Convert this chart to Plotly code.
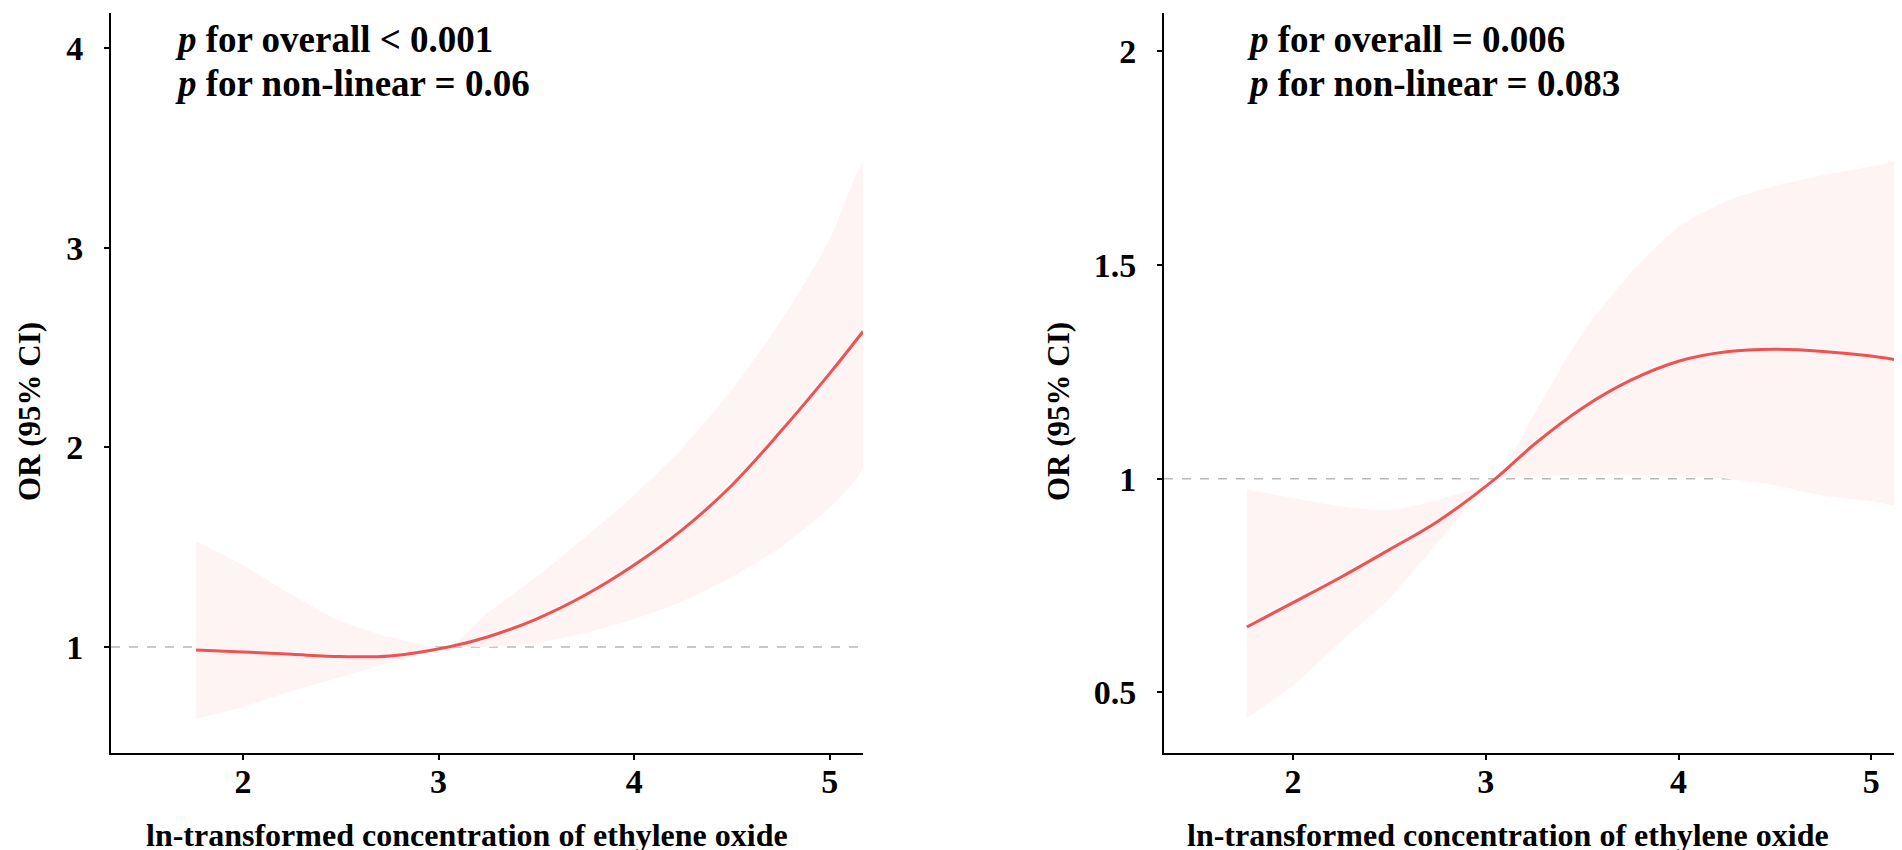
import plotly.graph_objects as go

# ln-transformed concentration grid (shared by both panels)
conc = [1.76, 2.0, 2.25, 2.5, 2.75, 3.05, 3.25, 3.5, 3.75, 4.0, 4.25, 4.5, 4.75, 5.0, 5.17]

# left panel: OR and 95% CI
or_left = [0.985, 0.975, 0.963, 0.952, 0.955, 1.0, 1.05, 1.14, 1.26, 1.41, 1.59, 1.81, 2.08, 2.37, 2.58]
up_left = [1.53, 1.41, 1.26, 1.13, 1.05, 1.0, 1.17, 1.35, 1.55, 1.76, 2.0, 2.29, 2.63, 3.04, 3.42]
lo_left = [0.64, 0.70, 0.78, 0.85, 0.92, 1.0, 1.0, 1.02, 1.07, 1.14, 1.23, 1.35, 1.50, 1.70, 1.90]

# right panel: OR and 95% CI
or_right = [0.653, 0.71, 0.77, 0.834, 0.90, 1.0, 1.08, 1.165, 1.23, 1.275, 1.297, 1.303, 1.298, 1.287, 1.275]
up_right = [0.975, 0.955, 0.935, 0.926, 0.95, 1.0, 1.15, 1.34, 1.48, 1.59, 1.65, 1.685, 1.71, 1.73, 1.74]
lo_right = [0.44, 0.516, 0.62, 0.72, 0.85, 1.0, 1.005, 1.01, 1.01, 1.005, 1.0, 0.985, 0.96, 0.948, 0.94]

xticks = [2, 3, 4, 5]
yticks_left = [1, 2, 3, 4]
yticks_right = [0.5, 1, 1.5, 2]

notes_left = ["<i>p</i> for overall < 0.001", "<i>p</i> for non-linear = 0.06"]
notes_right = ["<i>p</i> for overall = 0.006", "<i>p</i> for non-linear = 0.083"]
xlab = "ln-transformed concentration of ethylene oxide"
ylab = "OR (95% CI)"

line_col = "#EE5252"
band_col = "#FEF4F4"
font = "Liberation Serif"

fig = go.Figure()

for xa, ya, lo, up, est in [("x", "y", lo_left, up_left, or_left),
                            ("x2", "y2", lo_right, up_right, or_right)]:
    fig.add_trace(go.Scatter(x=conc + conc[::-1], y=up + lo[::-1], fill="toself",
                             fillcolor=band_col, line=dict(width=0, shape="spline", smoothing=0.6),
                             mode="lines", xaxis=xa, yaxis=ya, hoverinfo="skip"))
    fig.add_trace(go.Scatter(x=conc, y=est, mode="lines", line=dict(color=line_col, width=3, shape="spline"),
                             xaxis=xa, yaxis=ya))
    fig.add_shape(type="line", xref=xa + " domain", yref=ya, x0=0, x1=1, y0=1, y1=1,
                  line=dict(color="#B8B8B8", width=1.5, dash="dash"), layer="below")

axis_common = dict(showline=True, linecolor="black", linewidth=2, ticks="outside", ticklen=5,
                   tickwidth=1.5, tickcolor="black", showgrid=False, zeroline=False,
                   tickfont=dict(family=font, size=34, color="black", weight="bold"))

fig.update_layout(
    width=1902, height=850,
    margin=dict(l=0, r=0, t=0, b=0),
    paper_bgcolor="white", plot_bgcolor="white",
    showlegend=False,
    xaxis=dict(domain=[103 / 1902, 855 / 1902], range=[1.325, 5.17], tickvals=xticks,
               anchor="y", ticklabelstandoff=-8, **axis_common),
    yaxis=dict(domain=[105 / 850, 845 / 850], range=[0.469, 4.175], tickvals=yticks_left,
               anchor="x", ticklabelstandoff=14, **axis_common),
    xaxis2=dict(domain=[1156 / 1902, 1896 / 1902], range=[1.33, 5.17], tickvals=xticks,
                anchor="y2", ticklabelstandoff=-8, **axis_common),
    yaxis2=dict(domain=[105 / 850, 845 / 850], range=[0.358, 2.09], tickvals=yticks_right,
                anchor="x2", ticklabelstandoff=14, **axis_common),
)

# axis titles
title_font = dict(family=font, size=32, color="black", weight="bold")
for xc in [459, 1500]:
    fig.add_annotation(text=xlab, xref="paper", yref="paper", x=xc / 1902, y=1 - 827 / 850,
                       xanchor="center", yanchor="middle", showarrow=False, font=title_font)
for xc in [21, 1050]:
    fig.add_annotation(text=ylab, xref="paper", yref="paper", x=xc / 1902, y=1 - 404 / 850,
                       xanchor="center", yanchor="middle", textangle=-90, showarrow=False,
                       font=dict(family=font, size=31, color="black", weight="bold"))

# p-value notes
for xpos, notes in [(165 / 1902, notes_left), (1237 / 1902, notes_right)]:
    for ypos, txt in zip([1 - 31 / 850, 1 - 76 / 850], notes):
        fig.add_annotation(text=txt, xref="paper", yref="paper", x=xpos, y=ypos,
                           xanchor="left", yanchor="middle", showarrow=False,
                           font=dict(family=font, size=37, color="black", weight="bold"))

fig.write_html("out.html")
